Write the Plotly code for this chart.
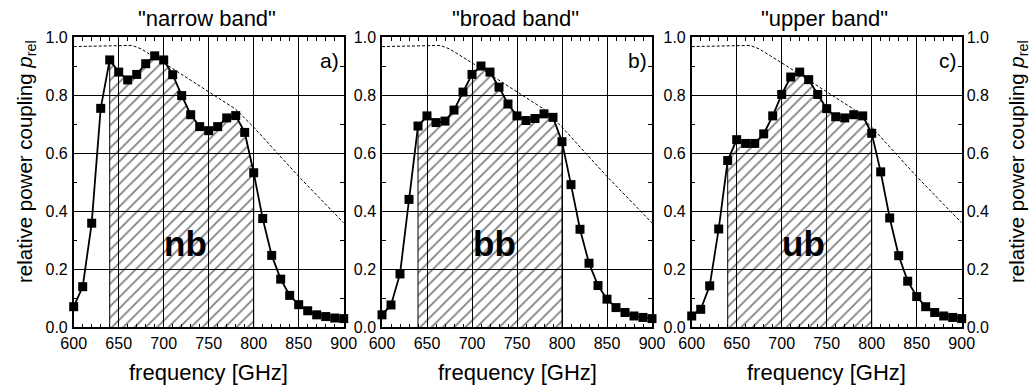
import plotly.graph_objects as go

# ---- data -------------------------------------------------------------
freq = list(range(600, 901, 10))  # GHz

p_narrow = [0.071, 0.140, 0.359, 0.755, 0.922, 0.880, 0.853, 0.872, 0.909, 0.936,
            0.922, 0.871, 0.799, 0.733, 0.692, 0.678, 0.692, 0.722, 0.730, 0.672,
            0.533, 0.375, 0.248, 0.166, 0.110, 0.078, 0.057, 0.043, 0.037, 0.032,
            0.030]
p_broad = [0.043, 0.077, 0.184, 0.441, 0.694, 0.729, 0.706, 0.711, 0.749, 0.811,
           0.872, 0.901, 0.880, 0.828, 0.770, 0.729, 0.713, 0.720, 0.736, 0.724,
           0.640, 0.492, 0.338, 0.221, 0.144, 0.097, 0.068, 0.051, 0.039, 0.034,
           0.030]
p_upper = [0.039, 0.062, 0.143, 0.339, 0.575, 0.647, 0.634, 0.634, 0.667, 0.729,
           0.803, 0.863, 0.880, 0.854, 0.803, 0.754, 0.726, 0.722, 0.733, 0.729,
           0.669, 0.536, 0.377, 0.247, 0.159, 0.106, 0.071, 0.051, 0.039, 0.034,
           0.030]

# upper-limit reference curve (dashed)
ref_freq = [600, 640, 665, 675, 700, 750, 780, 800, 825, 850, 875, 900]
ref_p = [0.968, 0.970, 0.972, 0.960, 0.912, 0.812, 0.752, 0.690, 0.605, 0.520,
         0.440, 0.360]

band_lo, band_hi = 640, 800  # integration band (hatched)

panel_titles = ['"narrow band"', '"broad band"', '"upper band"']
panel_tags = ["a)", "b)", "c)"]
band_names = ["nb", "bb", "ub"]
series = [p_narrow, p_broad, p_upper]

x_ticks = [600, 650, 700, 750, 800, 850, 900]
y_ticks = [0.0, 0.2, 0.4, 0.6, 0.8, 1.0]

# ---- layout geometry --------------------------------------------------
W, H = 1033, 385
FONT = "Liberation Sans, Arial, Helvetica, sans-serif"
x_domains = [(73.7, 343.7), (382.0, 652.0), (691.7, 961.7)]
y_top, y_bot = 37.3, 327.3


def fx(px):
    return px / W


def fy(py):
    return 1 - py / H


def label(**kw):
    fig.add_annotation(showarrow=False, xanchor=kw.pop("xanchor", "center"),
                       yanchor="middle", **kw)


fig = go.Figure()

for i, (vals, title, tag, name) in enumerate(zip(series, panel_titles, panel_tags, band_names)):
    xa = "x" if i == 0 else f"x{i + 1}"
    ya = "y" if i == 0 else f"y{i + 1}"

    # hatched band under the curve
    band_x = [f for f in freq if band_lo <= f <= band_hi]
    band_y = [v for f, v in zip(freq, vals) if band_lo <= f <= band_hi]
    fig.add_trace(go.Scatter(
        x=[band_lo] + band_x + [band_hi], y=[0] + band_y + [0],
        mode="lines", fill="toself", fillcolor="rgba(0,0,0,0)",
        fillpattern=dict(shape="/", fgcolor="black", bgcolor="rgba(0,0,0,0)",
                         size=8, solidity=0.22),
        line=dict(color="black", width=1),
        xaxis=xa, yaxis=ya, showlegend=False, hoverinfo="skip"))

    # dashed reference curve
    fig.add_trace(go.Scatter(
        x=ref_freq, y=ref_p, mode="lines",
        line=dict(color="black", width=1, dash="3px,2px"),
        xaxis=xa, yaxis=ya, showlegend=False))

    # measured coupling
    fig.add_trace(go.Scatter(
        x=freq, y=vals, mode="lines+markers",
        line=dict(color="black", width=1.8),
        marker=dict(symbol="square", size=9, color="black"),
        xaxis=xa, yaxis=ya, showlegend=False, cliponaxis=False))

    x0, x1 = x_domains[i]
    axis_common = dict(
        showline=True, linecolor="black", linewidth=1.5, mirror="ticks",
        ticks="inside", ticklen=5, tickwidth=1, tickcolor="black",
        showgrid=True, gridcolor="black", gridwidth=1, zeroline=False,
        tickfont=dict(family=FONT, size=16, color="black"),
    )
    fig.layout[xa.replace("x", "xaxis")] = dict(
        axis_common, domain=[fx(x0), fx(x1)], range=[600, 900],
        tickvals=x_ticks, anchor=ya, ticklabelstandoff=1,
        minor=dict(dtick=10, ticks="inside", ticklen=4, tickcolor="black", showgrid=False),
    )
    fig.layout[ya.replace("y", "yaxis")] = dict(
        axis_common, domain=[fy(y_bot), fy(y_top)], range=[0, 1],
        tickvals=y_ticks, tickformat=".1f", anchor=xa, ticklabelstandoff=1,
        minor=dict(dtick=0.1, ticks="inside", ticklen=4, tickcolor="black", showgrid=False),
    )

    cx = (x0 + x1) / 2
    label(x=fx(cx - 2), y=fy(18), xref="paper", yref="paper", text=title,
          font=dict(family=FONT, size=22, color="black"))
    label(x=fx(cx), y=fy(372), xref="paper", yref="paper", text="frequency [GHz]",
          font=dict(family=FONT, size=22, color="black"))
    label(x=0.99, y=0.92, xref=f"{xa} domain", yref=f"{ya} domain",
          xanchor="right", text=tag, font=dict(family=FONT, size=21, color="black"))
    label(x=0.415, y=0.29, xref=f"{xa} domain", yref=f"{ya} domain",
          text=f"<b>{name}</b>", font=dict(family=FONT, size=35, color="black"))

# tick labels on the right side of the last panel
fig.layout["yaxis4"] = dict(
    overlaying="y3", side="right", anchor="x3", range=[0, 1],
    tickvals=y_ticks, tickformat=".1f", showgrid=False, zeroline=False,
    showline=False, ticks="", ticklabelstandoff=4,
    tickfont=dict(family=FONT, size=16, color="black"),
)
fig.add_trace(go.Scatter(x=[None], y=[None], xaxis="x3", yaxis="y4", showlegend=False))

ytitle = "relative power coupling <i>p</i><sub>rel</sub>"
for px in (26, 1018):
    label(x=fx(px), y=fy(162), xref="paper", yref="paper", text=ytitle,
          textangle=-90, font=dict(family=FONT, size=20.5, color="black"))

fig.update_layout(
    width=W, height=H, margin=dict(l=0, r=0, t=0, b=0, autoexpand=False),
    paper_bgcolor="white", plot_bgcolor="white",
    font=dict(family=FONT, color="black"),
)

fig.write_html("out.html")
